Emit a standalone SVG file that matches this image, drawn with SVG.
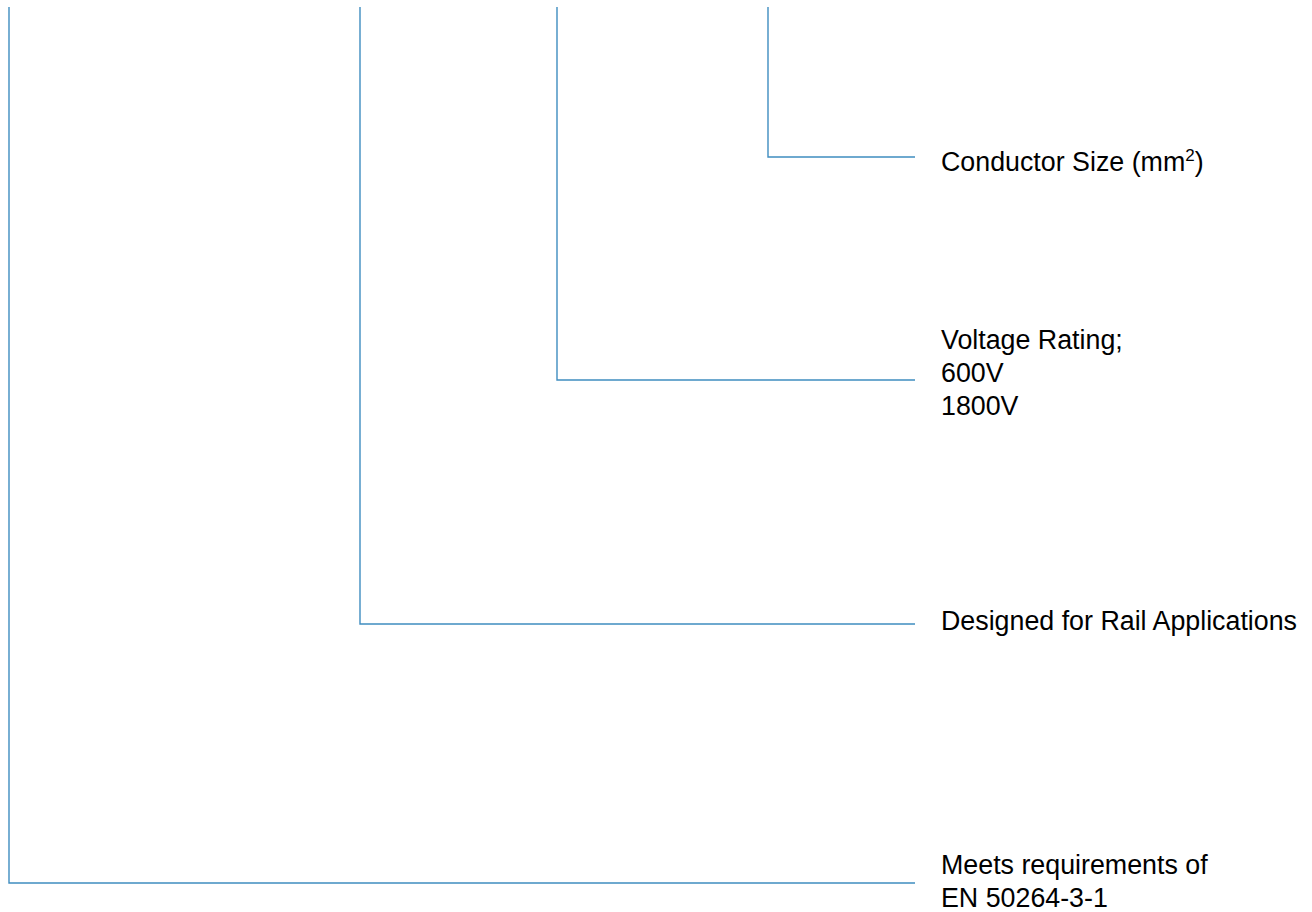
<svg xmlns="http://www.w3.org/2000/svg" width="1312" height="912" viewBox="0 0 1312 912">
<style>
.c{fill:none;stroke:#3f8dc0;stroke-width:1.4}
.t{font-family:"Liberation Sans",Arial,sans-serif;font-size:26.8px;fill:#000}
</style>
<rect width="1312" height="912" fill="#fff"/>
<g id="connectors">
<polyline class="c" points="768,7 768,157 915,157"/>
<polyline class="c" points="557,7 557,380 915,380"/>
<polyline class="c" points="360,7 360,624 915,624"/>
<polyline class="c" points="9,7 9,883 915,883"/>
</g>
<g id="conductor-size"><text class="t" x="941" y="171">Conductor Size (mm<tspan font-size="17" dy="-10">2</tspan><tspan dy="10">)</tspan></text></g>
<g id="voltage-rating"><text class="t" x="941" y="349">Voltage Rating;</text><text class="t" x="941" y="382">600V</text><text class="t" x="941" y="415">1800V</text></g>
<g id="rail"><text class="t" x="941" y="630">Designed for Rail Applications</text></g>
<g id="standard"><text class="t" x="941" y="874">Meets requirements of</text><text class="t" x="941" y="907">EN 50264-3-1</text></g>
</svg>
